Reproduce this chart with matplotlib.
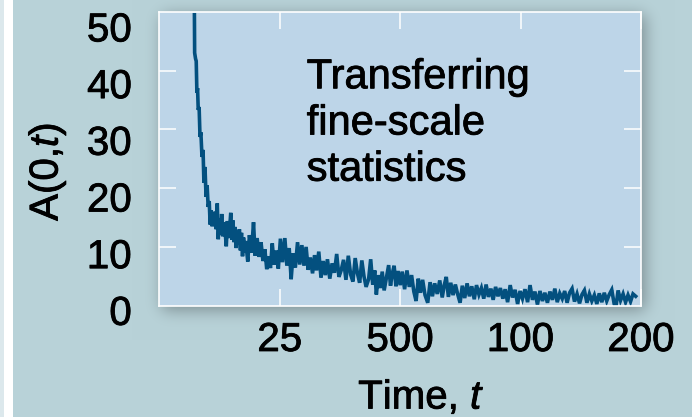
import matplotlib
matplotlib.use("Agg")
import matplotlib.pyplot as plt
import matplotlib.transforms as mtransforms
import matplotlib.patheffects as pe
from matplotlib.ticker import FixedLocator, NullLocator
import numpy as np

plt.rcParams['font.family'] = ['Liberation Sans', 'DejaVu Sans']
plt.rcParams['mathtext.fontset'] = 'custom'
plt.rcParams['mathtext.rm'] = 'Liberation Sans'
plt.rcParams['mathtext.it'] = 'Liberation Sans:italic'

# autocorrelation A(0,t) against time
t_vals = [
    15.30, 15.32, 15.40, 15.46, 15.52, 15.58, 15.64, 15.72, 15.80, 15.88, 15.98, 16.08, 16.16, 16.26, 16.36, 16.46, 16.56, 16.66,
    16.75, 16.85, 16.95, 17.05, 17.15, 17.25, 17.35, 17.45, 17.55, 17.65, 17.78, 17.90, 18.02, 18.14, 18.26, 18.38, 18.50,
    18.62, 18.74, 18.86, 18.98, 19.10, 19.22, 19.34, 19.46, 19.58, 19.70, 19.82, 19.94, 20.06, 20.18, 20.30, 20.42,
    20.55, 20.80, 21.00, 21.25, 21.50, 21.70, 21.95, 22.20, 22.45, 22.70, 22.95, 23.20, 23.45, 23.70, 23.95, 24.20, 24.50, 24.80,
    25.1, 25.4, 25.75, 26.05, 26.4, 26.7, 27.0, 27.35, 27.7, 28.05, 28.4, 28.75, 29.1, 29.45,
    29.8, 30.2, 30.55, 30.9, 31.3, 31.7, 32.1, 32.5, 32.9, 33.35, 33.8, 34.25, 34.7, 35.15,
    35.6, 36.1, 36.6, 37.1, 37.6, 38.1, 38.6, 39.1, 39.6, 40.1, 40.6, 41.1,
    41.7, 42.2, 42.7, 43.2, 43.6, 44.1, 44.6, 45.1, 45.6, 46.2, 46.8, 47.3, 47.8, 48.3, 48.8, 49.4, 50.0,
    50.6, 51.3, 52.0, 52.7, 53.4, 54.1, 54.8, 55.5, 56.2, 56.9, 57.7, 58.6, 59.4, 60.2, 61.0, 61.9, 62.8, 63.7, 64.5, 65.2,
    66.0, 66.9, 67.8, 68.7, 69.6, 70.6, 71.5, 72.5, 73.5, 74.5, 75.5, 76.6, 77.6, 78.7, 79.8, 80.9, 82.0, 83.1, 84.3, 85.4,
    86.6, 87.8, 89.0, 90.3,
    91.5, 92.8, 94.2, 95.5, 96.9, 98.3, 99.7, 101.1, 102.6, 104.1, 105.6, 107.1, 108.6, 110.2,
    111.8, 113.4, 115.0, 116.7, 118.4, 120.1, 121.8, 123.5, 125.3, 127.1, 128.9, 130.7, 132.6, 134.5,
    136.4, 138.4, 140.4, 142.4, 144.4, 146.5, 148.6, 150.7, 152.9, 155.1, 157.3,
    159.6, 161.9, 164.2, 166.6, 169.0, 171.4, 173.0, 175.3, 177.8, 180.4, 183.0, 185.6, 188.3, 191.0, 194.0,
]
a_vals = [
    49.5, 43.0, 42.0, 41.6, 36.2, 37.0, 33.3, 33.8, 28.7, 29.5, 25.3, 26.5, 20.9, 23.6, 18.5, 20.5, 16.8, 17.8,
    13.8, 16.2, 13.5, 15.6, 14.0, 16.0, 13.0, 17.4, 11.3, 14.8, 12.0, 15.6, 11.8, 14.2, 12.6, 10.1, 14.4,
    11.5, 13.2, 15.8, 11.2, 14.5, 10.8, 13.4, 9.8, 12.6, 10.4, 13.0, 9.4, 12.4, 8.4, 11.6, 9.0,
    11.0, 7.5, 12.0, 9.0, 14.2, 8.5, 11.5, 8.3, 10.8, 7.6, 9.6, 6.2, 8.4, 6.4, 10.6, 7.0, 9.4, 6.3,
    11.4, 7.4, 11.5, 6.8, 9.8, 4.5, 8.9, 6.5, 10.8, 7.0, 10.3, 6.8, 10.0, 6.1,
    8.2, 5.5, 8.6, 6.0, 9.2, 4.8, 7.6, 5.2, 7.9, 4.6, 7.2, 5.6, 8.8, 4.9,
    6.0, 7.8, 4.4, 8.5, 5.3, 4.1, 8.1, 5.5, 3.9, 7.7, 5.0, 3.2,
    4.5, 7.9, 3.6, 6.0, 1.9, 5.2, 3.0, 5.8, 2.6, 4.8, 6.9, 3.4, 5.5, 6.8, 3.3, 5.9, 3.5,
    5.8, 2.8, 6.0, 3.2, 5.2, 2.4, 0.8, 4.6, 2.2, 4.4, 1.8, 0.5, 4.0, 1.6, 3.8, 2.0, 4.3, 1.4, 3.6, 4.9,
    1.5, 3.9, 1.8, 3.6, 2.0, 0.5, 3.4, 1.3, 3.8, 1.6, 3.3, 1.1, 3.5, 1.9, 3.0, 1.2, 3.6, 1.5, 2.9, 1.0,
    3.2, 1.6, 3.0, 1.2,
    2.8, 0.6, 3.5, 1.4, 2.7, 0.3, 2.5, 1.2, 2.8, 0.6, 3.5, 1.0, 2.4, 0.2,
    2.5, 0.8, 2.2, 0.5, 2.4, 1.0, 2.9, 0.6, 2.1, 1.2, 2.5, 0.5, 2.2, 2.9,
    0.7, 2.0, 0.4, 1.9, 2.6, 0.5, 2.0, 0.8, 1.8, 0.3, 2.1,
    0.6, 2.2, 0.8, 1.9, 2.7, 0.3, -0.4, 2.6, 0.9, 2.0, 0.6, 1.8, 0.7, 2.0, 1.6,
]

xtick_vals = [25, 50, 100, 200]
xtick_labels = ['25', '500', '100', '200']
ytick_vals = [0, 10, 20, 30, 40, 50]
ytick_marks = [10, 20, 30, 40]

bg = np.array([184, 210, 216]) / 255.0
face = '#bdd5e8'
line_col = '#03507f'
fs = 29
bold = [pe.withStroke(linewidth=0.6, foreground='black')]

W, H, DPI = 692, 417, 100
fig = plt.figure(figsize=(W / DPI, H / DPI), dpi=DPI, facecolor=bg)

# axes box in pixels (left, top, right, bottom)
x0, y0, x1, y1 = 159.3, 11.7, 641.0, 305.7
ax = fig.add_axes([x0 / W, 1 - y1 / H, (x1 - x0) / W, (y1 - y0) / H])

# backdrop: panel colour, light strip on the left, soft drop shadow
img = np.empty((H, W, 3))
img[:] = bg
mask = np.zeros((H, W))
mask[int(y0) + 4:int(y1) + 5, int(x0) + 3:int(x1) + 4] = 1.0
sig = 8.0
kx = np.arange(-30, 31)
kern = np.exp(-kx ** 2 / (2 * sig ** 2))
kern /= kern.sum()
mask = np.apply_along_axis(lambda r: np.convolve(r, kern, mode='same'), 1, mask)
mask = np.apply_along_axis(lambda c: np.convolve(c, kern, mode='same'), 0, mask)
img *= (1 - 0.33 * mask)[..., None]
img[:, 0:4] = np.array([220, 232, 236]) / 255.0
img[:, 4:13] = 1.0
fig.figimage(img, xo=0, yo=0, origin='upper', zorder=-1)

ax.set_facecolor(face)
ax.plot(t_vals, a_vals, color=line_col, lw=2.6, solid_joinstyle='miter')

ax.set_xscale('log', base=2)
ax.set_xlim(12.5, 200)
ax.set_ylim(0, 50)

for sp in ax.spines.values():
    sp.set_color('white')
    sp.set_linewidth(1.2)

ax.xaxis.set_major_locator(FixedLocator(xtick_vals))
ax.xaxis.set_minor_locator(NullLocator())
ax.set_xticklabels(xtick_labels)
ax.tick_params(axis='x', which='major', direction='in', length=12, width=1.1,
               color='white', top=True, bottom=True, labelsize=fs, pad=11)
for lab in ax.get_xticklabels():
    lab.set_path_effects(bold)

# white marks inside the frame; the numbers sit a little off them
ax.yaxis.set_major_locator(FixedLocator(ytick_marks))
ax.yaxis.set_minor_locator(NullLocator())
ax.tick_params(axis='y', which='major', direction='in', length=12, width=1.1,
               color='white', left=True, right=True, labelleft=False)
ylab_tr = mtransforms.blended_transform_factory(ax.transAxes, ax.transData)
for v in ytick_vals:
    ax.text(-0.057, v * 0.964 - 0.7, str(v), transform=ylab_tr, ha='right',
            va='center_baseline', fontsize=fs, clip_on=False, path_effects=bold)

ax.set_xlabel('Time, $\\mathit{t}$', fontsize=fs, path_effects=bold)
ax.xaxis.set_label_coords(0.544, -0.245)
ax.set_ylabel('A(0,$\\mathit{t}$)', fontsize=fs, path_effects=bold)
ax.yaxis.set_label_coords(-0.19, 0.455)

ax.text(0.306, 0.845, 'Transferring\nfine-scale\nstatistics', transform=ax.transAxes,
        fontsize=30, ha='left', va='top', linespacing=1.2, path_effects=bold)

fig.savefig('out.png', dpi=DPI, facecolor=fig.get_facecolor())
